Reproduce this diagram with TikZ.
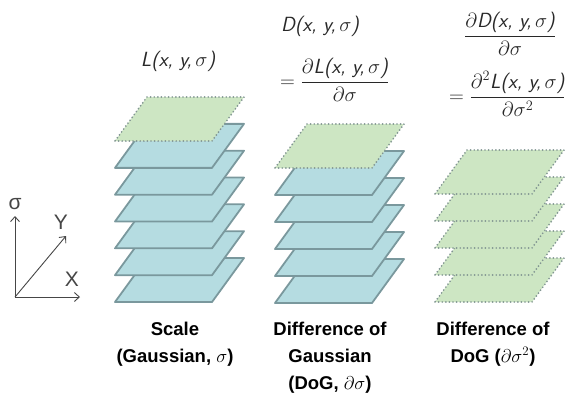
\RequirePackage{fix-cm}
\documentclass[tikz,border=0pt]{standalone}
\usepackage{amsmath}
\usepackage{fontspec}
\setmainfont{Liberation Sans}
\usetikzlibrary{arrows.meta}

\definecolor{bluefill}{RGB}{181,220,225}
\definecolor{blueedge}{RGB}{122,152,157}
\definecolor{greenfill}{RGB}{205,230,195}
\definecolor{dotcol}{RGB}{130,150,146}
\definecolor{axcol}{RGB}{70,70,70}
\definecolor{eqcol}{RGB}{40,40,40}

\newcommand{\tx}[1]{\mbox{\sffamily\itshape\addfontfeatures{LetterSpace=9}#1}}
\newcommand{\plane}[3]{\draw[#3] (#1,#2) -- ++(97,0) -- ++(32,-44) -- ++(-97,0) -- cycle;}

\tikzset{
  blueplane/.style={fill=bluefill, draw=blueedge, line width=1.8pt, line join=round},
  greenplane/.style={fill=greenfill, draw=dotcol, line width=1.9pt, line cap=round, dash pattern=on 0pt off 3.6pt},
  eqtext/.style={inner sep=0pt, text=eqcol, font=\fontsize{20.5}{24}\selectfont},
  lab/.style={anchor=north, align=center, inner sep=0pt, font=\bfseries\fontsize{18.5}{27}\selectfont},
  axis/.style={draw=axcol, line width=0.9pt, -{Straight Barb[length=5pt,width=9pt]}},
  axlab/.style={inner sep=0pt, text=axcol, font=\fontsize{21}{23}\selectfont}
}

\begin{document}
\begin{tikzpicture}[x=1pt,y=-1pt]
\useasboundingbox (0,0) rectangle (580,394);

% Stack 1: Scale
\foreach \k in {0,...,5}{\pgfmathsetmacro\yy{302-\k*26.83}\plane{115}{\yy}{blueplane}}
\plane{115}{141}{greenplane}

% Stack 2: DoG
\foreach \k in {0,...,4}{\pgfmathsetmacro\yy{303-\k*27}\plane{275}{\yy}{blueplane}}
\plane{275}{168}{greenplane}

% Stack 3: DoG derivative
\foreach \k in {0,...,4}{\pgfmathsetmacro\yy{302-\k*27}\plane{435}{\yy}{greenplane}}

% Equations
\node[eqtext] (eqL) at (178,61) {\tx{L(x, y,}$\,\sigma$\tx{)}};
\node[eqtext, anchor=west] (eqD) at (281,26) {\tx{D(x, y,}$\,\sigma$\tx{)}};
\node[eqtext, anchor=west] (eqDL) at (280,80) {$=\dfrac{\partial\tx{L(x, y,}\,\sigma\tx{)}}{\partial\sigma}$};
\node[eqtext] (eqdD) at (510,34) {$\dfrac{\partial\tx{D(x, y,}\,\sigma\tx{)}}{\partial\sigma}$};
\node[eqtext, anchor=west] (eqdL) at (449,94) {$=\dfrac{\partial^2\tx{L(x, y,}\,\sigma\tx{)}}{\partial\sigma^2}$};

% Axes
\coordinate (O) at (15,297);
\coordinate (Stip) at (15,216);
\coordinate (Xtip) at (80,297);
\coordinate (Ytip) at (66,236);
\draw[axis] (O) -- (Stip);
\draw[axis] (O) -- (Xtip);
\draw[axis] (O) -- (Ytip);
\node[axlab] (sig) at (15,204) {σ};
\node[axlab] (Ylab) at (61,222) {Y};
\node[axlab] (Xlab) at (72,279) {X};

% Labels
\node[lab] (lab1) at (175,322) {Scale\\(Gaussian, $\sigma$)};
\node[lab] (lab2) at (330,322) {Difference of\\Gaussian\\(DoG, $\partial\sigma$)};
\node[lab] (lab3) at (493,322) {Difference of\\DoG ($\partial\sigma^2$)};
\end{tikzpicture}
\end{document}
